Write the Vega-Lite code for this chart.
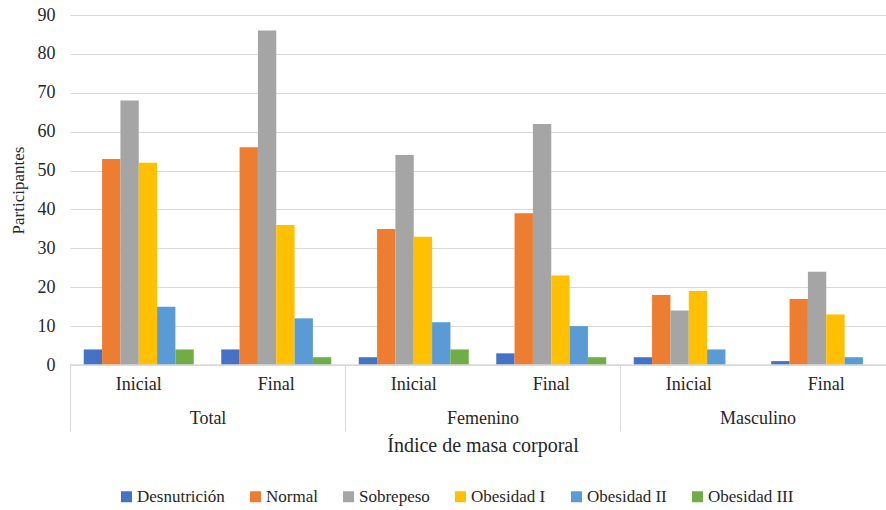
{
  "$schema": "https://vega.github.io/schema/vega-lite/v6.json",
  "autosize": {"type": "none"},
  "width": 825,
  "height": 350,
  "padding": {"left": 70, "top": 15, "right": -9, "bottom": 145},
  "config": {
    "view": {"stroke": null},
    "font": "Liberation Serif",
    "axis": {"labelFont": "Liberation Serif", "titleFont": "Liberation Serif", "labelColor": "#262626", "titleColor": "#262626", "titleFontWeight": "normal"},
    "legend": {"labelFont": "Liberation Serif"},
    "text": {"font": "Liberation Serif"}
  },
  "datasets": {
    "imc": [
      {"categoria": "Total|Inicial", "grupo": "Total", "momento": "Inicial", "serie": "Desnutrición", "valor": 4},
      {"categoria": "Total|Inicial", "grupo": "Total", "momento": "Inicial", "serie": "Normal", "valor": 53},
      {"categoria": "Total|Inicial", "grupo": "Total", "momento": "Inicial", "serie": "Sobrepeso", "valor": 68},
      {"categoria": "Total|Inicial", "grupo": "Total", "momento": "Inicial", "serie": "Obesidad I", "valor": 52},
      {"categoria": "Total|Inicial", "grupo": "Total", "momento": "Inicial", "serie": "Obesidad II", "valor": 15},
      {"categoria": "Total|Inicial", "grupo": "Total", "momento": "Inicial", "serie": "Obesidad III", "valor": 4},
      {"categoria": "Total|Final", "grupo": "Total", "momento": "Final", "serie": "Desnutrición", "valor": 4},
      {"categoria": "Total|Final", "grupo": "Total", "momento": "Final", "serie": "Normal", "valor": 56},
      {"categoria": "Total|Final", "grupo": "Total", "momento": "Final", "serie": "Sobrepeso", "valor": 86},
      {"categoria": "Total|Final", "grupo": "Total", "momento": "Final", "serie": "Obesidad I", "valor": 36},
      {"categoria": "Total|Final", "grupo": "Total", "momento": "Final", "serie": "Obesidad II", "valor": 12},
      {"categoria": "Total|Final", "grupo": "Total", "momento": "Final", "serie": "Obesidad III", "valor": 2},
      {"categoria": "Femenino|Inicial", "grupo": "Femenino", "momento": "Inicial", "serie": "Desnutrición", "valor": 2},
      {"categoria": "Femenino|Inicial", "grupo": "Femenino", "momento": "Inicial", "serie": "Normal", "valor": 35},
      {"categoria": "Femenino|Inicial", "grupo": "Femenino", "momento": "Inicial", "serie": "Sobrepeso", "valor": 54},
      {"categoria": "Femenino|Inicial", "grupo": "Femenino", "momento": "Inicial", "serie": "Obesidad I", "valor": 33},
      {"categoria": "Femenino|Inicial", "grupo": "Femenino", "momento": "Inicial", "serie": "Obesidad II", "valor": 11},
      {"categoria": "Femenino|Inicial", "grupo": "Femenino", "momento": "Inicial", "serie": "Obesidad III", "valor": 4},
      {"categoria": "Femenino|Final", "grupo": "Femenino", "momento": "Final", "serie": "Desnutrición", "valor": 3},
      {"categoria": "Femenino|Final", "grupo": "Femenino", "momento": "Final", "serie": "Normal", "valor": 39},
      {"categoria": "Femenino|Final", "grupo": "Femenino", "momento": "Final", "serie": "Sobrepeso", "valor": 62},
      {"categoria": "Femenino|Final", "grupo": "Femenino", "momento": "Final", "serie": "Obesidad I", "valor": 23},
      {"categoria": "Femenino|Final", "grupo": "Femenino", "momento": "Final", "serie": "Obesidad II", "valor": 10},
      {"categoria": "Femenino|Final", "grupo": "Femenino", "momento": "Final", "serie": "Obesidad III", "valor": 2},
      {"categoria": "Masculino|Inicial", "grupo": "Masculino", "momento": "Inicial", "serie": "Desnutrición", "valor": 2},
      {"categoria": "Masculino|Inicial", "grupo": "Masculino", "momento": "Inicial", "serie": "Normal", "valor": 18},
      {"categoria": "Masculino|Inicial", "grupo": "Masculino", "momento": "Inicial", "serie": "Sobrepeso", "valor": 14},
      {"categoria": "Masculino|Inicial", "grupo": "Masculino", "momento": "Inicial", "serie": "Obesidad I", "valor": 19},
      {"categoria": "Masculino|Inicial", "grupo": "Masculino", "momento": "Inicial", "serie": "Obesidad II", "valor": 4},
      {"categoria": "Masculino|Inicial", "grupo": "Masculino", "momento": "Inicial", "serie": "Obesidad III", "valor": 0},
      {"categoria": "Masculino|Final", "grupo": "Masculino", "momento": "Final", "serie": "Desnutrición", "valor": 1},
      {"categoria": "Masculino|Final", "grupo": "Masculino", "momento": "Final", "serie": "Normal", "valor": 17},
      {"categoria": "Masculino|Final", "grupo": "Masculino", "momento": "Final", "serie": "Sobrepeso", "valor": 24},
      {"categoria": "Masculino|Final", "grupo": "Masculino", "momento": "Final", "serie": "Obesidad I", "valor": 13},
      {"categoria": "Masculino|Final", "grupo": "Masculino", "momento": "Final", "serie": "Obesidad II", "valor": 2},
      {"categoria": "Masculino|Final", "grupo": "Masculino", "momento": "Final", "serie": "Obesidad III", "valor": 0}
    ],
    "grupos": [
      {"grupo": "Total"},
      {"grupo": "Femenino"},
      {"grupo": "Masculino"}
    ]
  },
  "resolve": {"scale": {"x": "independent"}, "axis": {"x": "independent"}},
  "layer": [
    {
      "data": {"name": "imc"},
      "mark": {"type": "bar"},
      "encoding": {
        "x": {
          "field": "categoria",
          "type": "nominal",
          "sort": null,
          "scale": {"paddingInner": 0, "paddingOuter": 0},
          "axis": {
            "orient": "bottom",
            "title": null,
            "labelExpr": "split(datum.value, '|')[1]",
            "labelAngle": 0,
            "labelFont": "Liberation Serif",
            "labelFontSize": 18,
            "labelPadding": 10,
            "ticks": false,
            "domain": false
          }
        },
        "xOffset": {
          "field": "serie",
          "type": "nominal",
          "sort": ["Desnutrición", "Normal", "Sobrepeso", "Obesidad I", "Obesidad II", "Obesidad III"],
          "scale": {"paddingInner": 0, "paddingOuter": 0.75}
        },
        "y": {
          "field": "valor",
          "type": "quantitative",
          "scale": {"domain": [0, 90], "nice": false},
          "axis": {
            "title": "Participantes",
            "titleFont": "Liberation Serif",
            "titleFontSize": 17,
            "titlePadding": 10,
            "values": [0, 10, 20, 30, 40, 50, 60, 70, 80, 90],
            "labelFont": "Liberation Serif",
            "labelFontSize": 18,
            "labelPadding": 15,
            "domain": false,
            "ticks": false,
            "gridColor": "#d9d9d9",
            "gridWidth": 1
          }
        },
        "color": {
          "field": "serie",
          "type": "nominal",
          "sort": ["Desnutrición", "Normal", "Sobrepeso", "Obesidad I", "Obesidad II", "Obesidad III"],
          "scale": {
            "domain": ["Desnutrición", "Normal", "Sobrepeso", "Obesidad I", "Obesidad II", "Obesidad III"],
            "range": ["#4472c4", "#ed7d31", "#a5a5a5", "#ffc000", "#5b9bd5", "#70ad47"]
          },
          "legend": {
            "title": null,
            "orient": "none",
            "direction": "horizontal",
            "legendX": 48,
            "legendY": 473,
            "padding": 0,
            "symbolType": "square",
            "symbolSize": 121,
            "symbolStrokeWidth": 0,
            "labelFont": "Liberation Serif",
            "labelFontSize": 17,
            "labelColor": "#262626",
            "labelOffset": 2,
            "columnPadding": 22
          }
        }
      }
    },
    {
      "data": {"name": "grupos"},
      "mark": {"type": "bar", "fill": null, "stroke": "#d9d9d9", "strokeWidth": 1},
      "encoding": {
        "x": {
          "field": "grupo",
          "type": "nominal",
          "sort": null,
          "scale": {"paddingInner": 0, "paddingOuter": 0},
          "axis": {
            "orient": "bottom",
            "title": "Índice de masa corporal",
            "titleFont": "Liberation Serif",
            "titleFontSize": 20,
            "titlePadding": 4,
            "labelAngle": 0,
            "labelFont": "Liberation Serif",
            "labelFontSize": 18,
            "tickBand": "extent",
            "tickSize": 66,
            "tickColor": "#d9d9d9",
            "labelPadding": -22,
            "domain": false
          }
        },
        "y": {
          "datum": 0,
          "type": "quantitative",
          "axis": {
            "title": "Participantes",
            "titleFont": "Liberation Serif",
            "titleFontSize": 17,
            "titlePadding": 10,
            "values": [0, 10, 20, 30, 40, 50, 60, 70, 80, 90],
            "labelFont": "Liberation Serif",
            "labelFontSize": 18,
            "labelPadding": 15,
            "domain": false,
            "ticks": false,
            "gridColor": "#d9d9d9",
            "gridWidth": 1
          }
        },
        "y2": {"datum": 0}
      }
    }
  ]
}
